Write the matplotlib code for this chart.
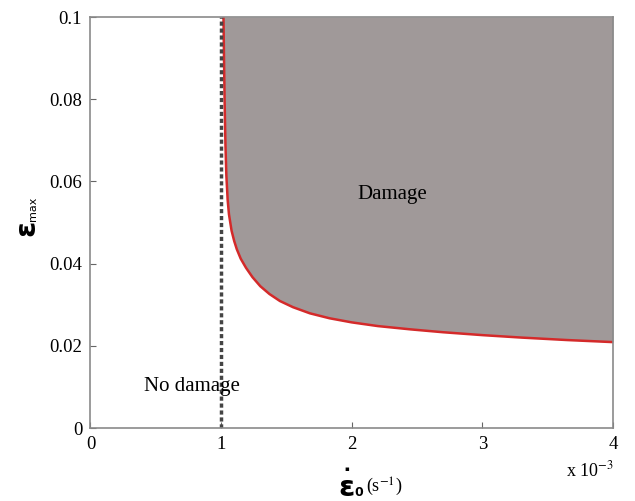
import matplotlib
matplotlib.use("Agg")
import matplotlib.pyplot as plt
import numpy as np

plt.rcParams['font.family'] = ['Liberation Serif', 'DejaVu Serif']
plt.rcParams['mathtext.fontset'] = 'stix'

# Damage threshold curve (strain rate in 1e-3 s^-1, eps_max)
rate = [1.018, 1.022, 1.027, 1.033, 1.04, 1.05, 1.06, 1.08, 1.10, 1.12, 1.15, 1.19, 1.24,
        1.30, 1.37, 1.45, 1.55, 1.68, 1.83, 2.0, 2.2, 2.45, 2.7, 3.0, 3.3, 3.65, 4.0]
eps_max = [0.100, 0.090, 0.079, 0.069, 0.0615, 0.0555, 0.0520, 0.0480, 0.0455, 0.0435,
           0.0412, 0.0390, 0.0367, 0.0345, 0.0326, 0.0309, 0.0294, 0.0279, 0.0267,
           0.0257, 0.0248, 0.0240, 0.0233, 0.0226, 0.0220, 0.0214, 0.0209]
threshold_rate = 1.0
xticks = [0, 1, 2, 3, 4]
yticks = [0, 0.02, 0.04, 0.06, 0.08, 0.1]
ytick_labels = ['0', '0.02', '0.04', '0.06', '0.08', '0.1']

fig = plt.figure(figsize=(6.35, 5.01), dpi=100)
ax = fig.add_axes([0.1425, 0.1457, 0.8229, 0.8203])

ax.fill_between(rate, eps_max, 0.1, color='#a09999', linewidth=0)
ax.plot(rate, eps_max, color='#d42a2a', linewidth=1.8, solid_joinstyle='round')
ax.plot([threshold_rate, threshold_rate], [0, 0.1], color='#444444', linewidth=2.5,
        linestyle=(0, (1.2, 0.8)))

ax.set_xlim(0, 4)
ax.set_ylim(0, 0.1)
ax.set_xticks(xticks)
ax.set_xticklabels([str(t) for t in xticks])
ax.set_yticks(yticks)
ax.set_yticklabels(ytick_labels)
ax.tick_params(direction='in', length=4, color='#666666', labelsize=13.5, pad=6)
for s in ax.spines.values():
    s.set_color('#8a8a8a')
    s.set_linewidth(1.2)

ax.text(2.31, 0.0567, 'Damage', fontsize=15, ha='center', va='center')
ax.text(0.78, 0.0102, 'No damage', fontsize=15, ha='center', va='center')

# y label
fig.text(26/635, 1 - 228/501, 'ε', fontfamily='DejaVu Sans', fontweight='bold',
         fontsize=21, rotation=90, ha='center', va='center')
fig.text(33/635, 1 - 209/501, 'max', fontfamily='DejaVu Sans',
         fontsize=8, rotation=90, ha='center', va='center')

# x label
fig.text(347/635, 1 - 488/501, 'ε', fontfamily='DejaVu Sans', fontweight='bold',
         fontsize=21, ha='center', va='center')
fig.text(347/635, 1 - 469/501, '▪', fontfamily='DejaVu Sans',
         fontsize=5, ha='center', va='center')
fig.text(359/635, 1 - 492/501, '0', fontfamily='DejaVu Sans', fontweight='bold',
         fontsize=9, ha='center', va='center')
fig.text(366/635, 1 - 487/501, r'(s$^{-1}$)', fontsize=13, ha='left', va='center')

# multiplier
fig.text(590/635, 1 - 470/501, r'x 10$^{-3}$', fontsize=13, ha='center', va='center')

fig.savefig('out.png', dpi=100)
